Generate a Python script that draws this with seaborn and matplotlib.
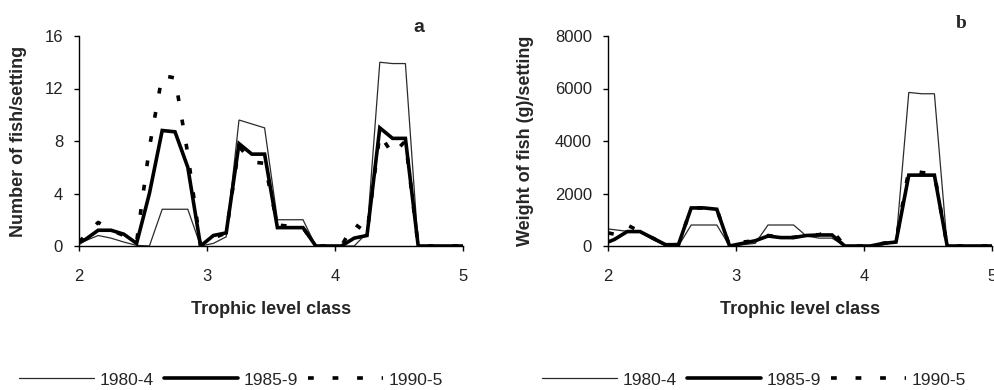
import matplotlib
matplotlib.use("Agg")
import matplotlib.pyplot as plt
import seaborn as sns

# trophic level classes (x positions of the data points)
trophic_class = [2.0, 2.05, 2.15, 2.25, 2.35, 2.45, 2.55, 2.65, 2.75, 2.85, 2.95,
                 3.05, 3.15, 3.25, 3.35, 3.45, 3.55, 3.65, 3.75, 3.85, 3.95,
                 4.05, 4.15, 4.25, 4.35, 4.45, 4.55, 4.65, 4.75, 4.85, 4.95, 5.0]

# panel a: number of fish per setting
num_1980 = [0.1, 0.4, 0.8, 0.6, 0.3, 0.05, 0.0, 2.8, 2.8, 2.8, 0.0,
            0.2, 0.7, 9.6, 9.3, 9.0, 2.0, 2.0, 2.0, 0.0, 0.0,
            0.0, 0.0, 1.0, 14.0, 13.9, 13.9, 0.0, 0.0, 0.0, 0.0, 0.0]
num_1985 = [0.3, 0.5, 1.2, 1.2, 0.9, 0.2, 4.0, 8.8, 8.7, 6.0, 0.0,
            0.8, 1.0, 7.8, 7.0, 7.0, 1.4, 1.4, 1.4, 0.0, 0.0,
            0.0, 0.6, 0.8, 9.0, 8.2, 8.2, 0.0, 0.0, 0.0, 0.0, 0.0]
num_1990 = [0.3, 0.8, 1.8, 1.2, 0.8, 0.3, 7.5, 13.0, 12.8, 7.0, 0.0,
            0.6, 1.0, 7.6, 6.4, 6.3, 1.6, 1.5, 1.4, 0.0, 0.0,
            0.0, 1.7, 1.0, 8.5, 7.0, 8.0, 0.0, 0.0, 0.0, 0.0, 0.0]

# panel b: weight of fish (g) per setting
wt_1980 = [650, 620, 560, 520, 250, 0, 0, 800, 800, 800, 0,
           50, 100, 800, 800, 800, 380, 300, 300, 0, 0,
           0, 50, 150, 5850, 5800, 5800, 0, 0, 0, 0, 0]
wt_1985 = [150, 250, 550, 550, 300, 50, 50, 1450, 1450, 1400, 0,
           100, 200, 380, 320, 320, 400, 420, 420, 0, 0,
           0, 100, 150, 2700, 2700, 2700, 0, 0, 0, 0, 0]
wt_1990 = [500, 450, 800, 550, 300, 50, 50, 1450, 1450, 1400, 0,
           150, 200, 400, 330, 330, 420, 430, 600, 0, 0,
           0, 100, 200, 2900, 2800, 2750, 0, 0, 0, 0, 0]

periods = ["1980-4", "1985-9", "1990-5"]

sns.set_style("ticks")
plt.rcParams["font.family"] = ["Liberation Sans", "DejaVu Sans"]

# style per period: thin grey, thick black, sparse square dots
line_kw = {
    "1980-4": dict(color="#2b2b2b", lw=0.9, ls="-"),
    "1985-9": dict(color="black", lw=2.6, ls="-"),
    "1990-5": dict(color="black", lw=2.6, ls=(0, (1.6, 5.2))),
}

fig = plt.figure(figsize=(9.94, 3.9), dpi=100)
ax_a = fig.add_axes([79 / 994, 144 / 390, 384 / 994, 210 / 390])
ax_b = fig.add_axes([608 / 994, 144 / 390, 384 / 994, 210 / 390])

panels = [
    (ax_a, [num_1980, num_1985, num_1990], 16, 4, "Number of fish/setting", -0.135, 231),
    (ax_b, [wt_1980, wt_1985, wt_1990], 8000, 2000, "Weight of fish (g)/setting", -0.193, 754),
]

for ax, series, ymax, ystep, ylab, ylab_x, leg_x in panels:
    for name, vals in zip(periods, series):
        sns.lineplot(x=trophic_class, y=vals, ax=ax, label=name,
                     solid_joinstyle="miter", **line_kw[name])
    ax.set_xlim(2, 5)
    ax.set_ylim(0, ymax)
    ax.set_xticks([2, 3, 4, 5])
    ax.set_yticks(range(0, ymax + 1, ystep))
    sns.despine(ax=ax)
    for s in ("left", "bottom"):
        ax.spines[s].set_linewidth(1.0)
        ax.spines[s].set_color("black")
    ax.tick_params(axis="both", direction="out", length=3.5, width=1.0,
                   color="black", labelsize=12, labelcolor="#222222")
    ax.tick_params(axis="x", pad=13)
    ax.tick_params(axis="y", pad=8)
    ax.set_xlabel("Trophic level class", fontsize=13, fontweight="bold", labelpad=12)
    ax.set_ylabel(ylab, fontsize=13, fontweight="bold")
    ax.yaxis.set_label_coords(ylab_x, 0.5)
    ax.legend(loc="center", bbox_to_anchor=(leg_x / 994, 1 - 380 / 390),
              bbox_transform=fig.transFigure, ncol=3, frameon=False,
              fontsize=12.5, handlelength=4.3, handletextpad=0.3,
              columnspacing=0.6, borderaxespad=0)

fig.text(419 / 994, 1 - 28 / 390, "a", fontsize=14, fontweight="bold",
         family=["Liberation Sans", "DejaVu Sans"], ha="center", va="center")
fig.text(961 / 994, 1 - 24 / 390, "b", fontsize=14, fontweight="bold",
         family="Liberation Serif", ha="center", va="center")

fig.savefig("out.png", dpi=100)
